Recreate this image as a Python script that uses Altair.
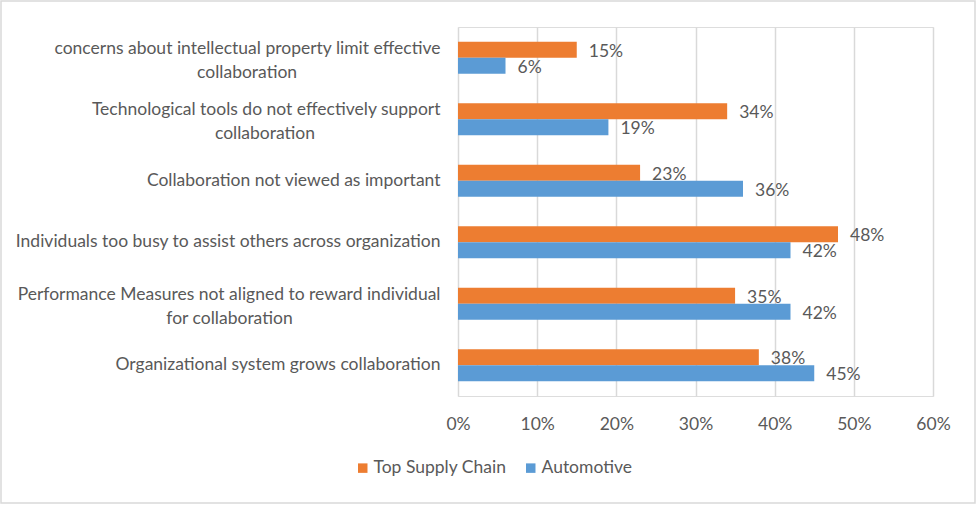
import altair as alt
import pandas as pd

categories = [
    "concerns about intellectual property limit effective collaboration",
    "Technological tools do not effectively support collaboration",
    "Collaboration not viewed as important",
    "Individuals too busy to assist others across organization",
    "Performance Measures not aligned to reward individual for collaboration",
    "Organizational system grows collaboration",
]
NB = "\u00a0"
WJ = "\u2060"
label_lines = [
    ["concerns about intellectual property limit effective", "collaboration" + NB * 32 + WJ],
    ["Technological tools do not effectively support", "collaboration" + NB * 28 + WJ],
    ["Collaboration not viewed as important"],
    ["Individuals too busy to assist others across organization"],
    ["Performance Measures not aligned to reward individual", "for collaboration" + NB * 33 + WJ],
    ["Organizational system grows collaboration"],
]
series = ["Top Supply Chain", "Automotive"]
top_supply_chain = [0.15, 0.34, 0.23, 0.48, 0.35, 0.38]
automotive = [0.06, 0.19, 0.36, 0.42, 0.42, 0.45]
x_ticks = [0, 0.1, 0.2, 0.3, 0.4, 0.5, 0.6]
colors = ["#ED7D31", "#5B9BD5"]

rows = []
for c, a, b in zip(categories, top_supply_chain, automotive):
    rows.append({"category": c, "series": series[0], "value": a})
    rows.append({"category": c, "series": series[1], "value": b})
df = pd.DataFrame(rows)

def js_str(s):
    return "'" + s.replace("'", "\\'") + "'"

expr = "datum.label"
for c, lines in reversed(list(zip(categories, label_lines))):
    arr = "[" + ",".join(js_str(l) for l in lines) + "]"
    expr = f"datum.value == {js_str(c)} ? {arr} : ({expr})"

two_line = [c for c, lines in zip(categories, label_lines) if len(lines) > 1]
two_line_test = " || ".join(f"datum.value == {js_str(c)}" for c in two_line)

FONT = "Lato"
TXT = "#595959"
FS = 17.5
LH = 24

y_enc = alt.Y(
    "category:N",
    sort=categories,
    scale=alt.Scale(paddingInner=0.48, paddingOuter=0.24),
    axis=alt.Axis(
        title=None, domain=False, ticks=False, labelPadding=18,
        labelExpr=expr, labelFontSize=FS, labelColor=TXT, labelFont=FONT,
        labelLimit=600, labelLineHeight=LH,
        labelOffset={"condition": {"test": two_line_test, "value": -9}, "value": 0},
    ),
)
yoff = alt.YOffset("series:N", sort=series)
x_enc = alt.X(
    "value:Q",
    scale=alt.Scale(domain=[0, 0.6], nice=False),
    axis=alt.Axis(
        title=None, format=".0%", values=x_ticks, domain=False, ticks=False,
        grid=True, gridColor="#D9D9D9", gridWidth=1.5, labelPadding=19,
        labelFlush=False, labelFontSize=FS, labelColor=TXT, labelFont=FONT,
    ),
)

base = alt.Chart(df)
bars = base.mark_bar().encode(
    y=y_enc, yOffset=yoff, x=x_enc,
    color=alt.Color(
        "series:N", sort=series,
        scale=alt.Scale(domain=series, range=colors),
        legend=alt.Legend(
            title=None, orient="none", direction="horizontal",
            legendX=-104, legendY=432, symbolType="square", symbolSize=90,
            symbolStrokeWidth=0, labelFontSize=FS, labelColor=TXT, labelFont=FONT,
            columnPadding=15, symbolOffset=0, labelOffset=2,
        ),
    ),
)
labels = base.mark_text(align="left", baseline="middle", dx=12, dy=2, fontSize=FS,
                        font=FONT, color=TXT).encode(
    y=alt.Y("category:N", sort=categories), yOffset=yoff,
    x=alt.X("value:Q"), text=alt.Text("value:Q", format=".0%"),
)
frame = alt.Chart(pd.DataFrame({"k": [0]})).mark_rect(
    fill=None, stroke="#D9D9D9", strokeWidth=1.5
).encode(
    x=alt.value(-457), x2=alt.value(975 - 458),
    y=alt.value(-26), y2=alt.value(503 - 27),
)

chart = alt.layer(bars, labels, frame).properties(
    width=475, height=369,
    autosize=alt.AutoSizeParams(type="none"),
    padding={"left": 458, "top": 27, "right": 44, "bottom": 109},
).configure_view(stroke=None).configure(background="white")

chart.save("out.html", embed_options={"renderer": "svg", "actions": False})
